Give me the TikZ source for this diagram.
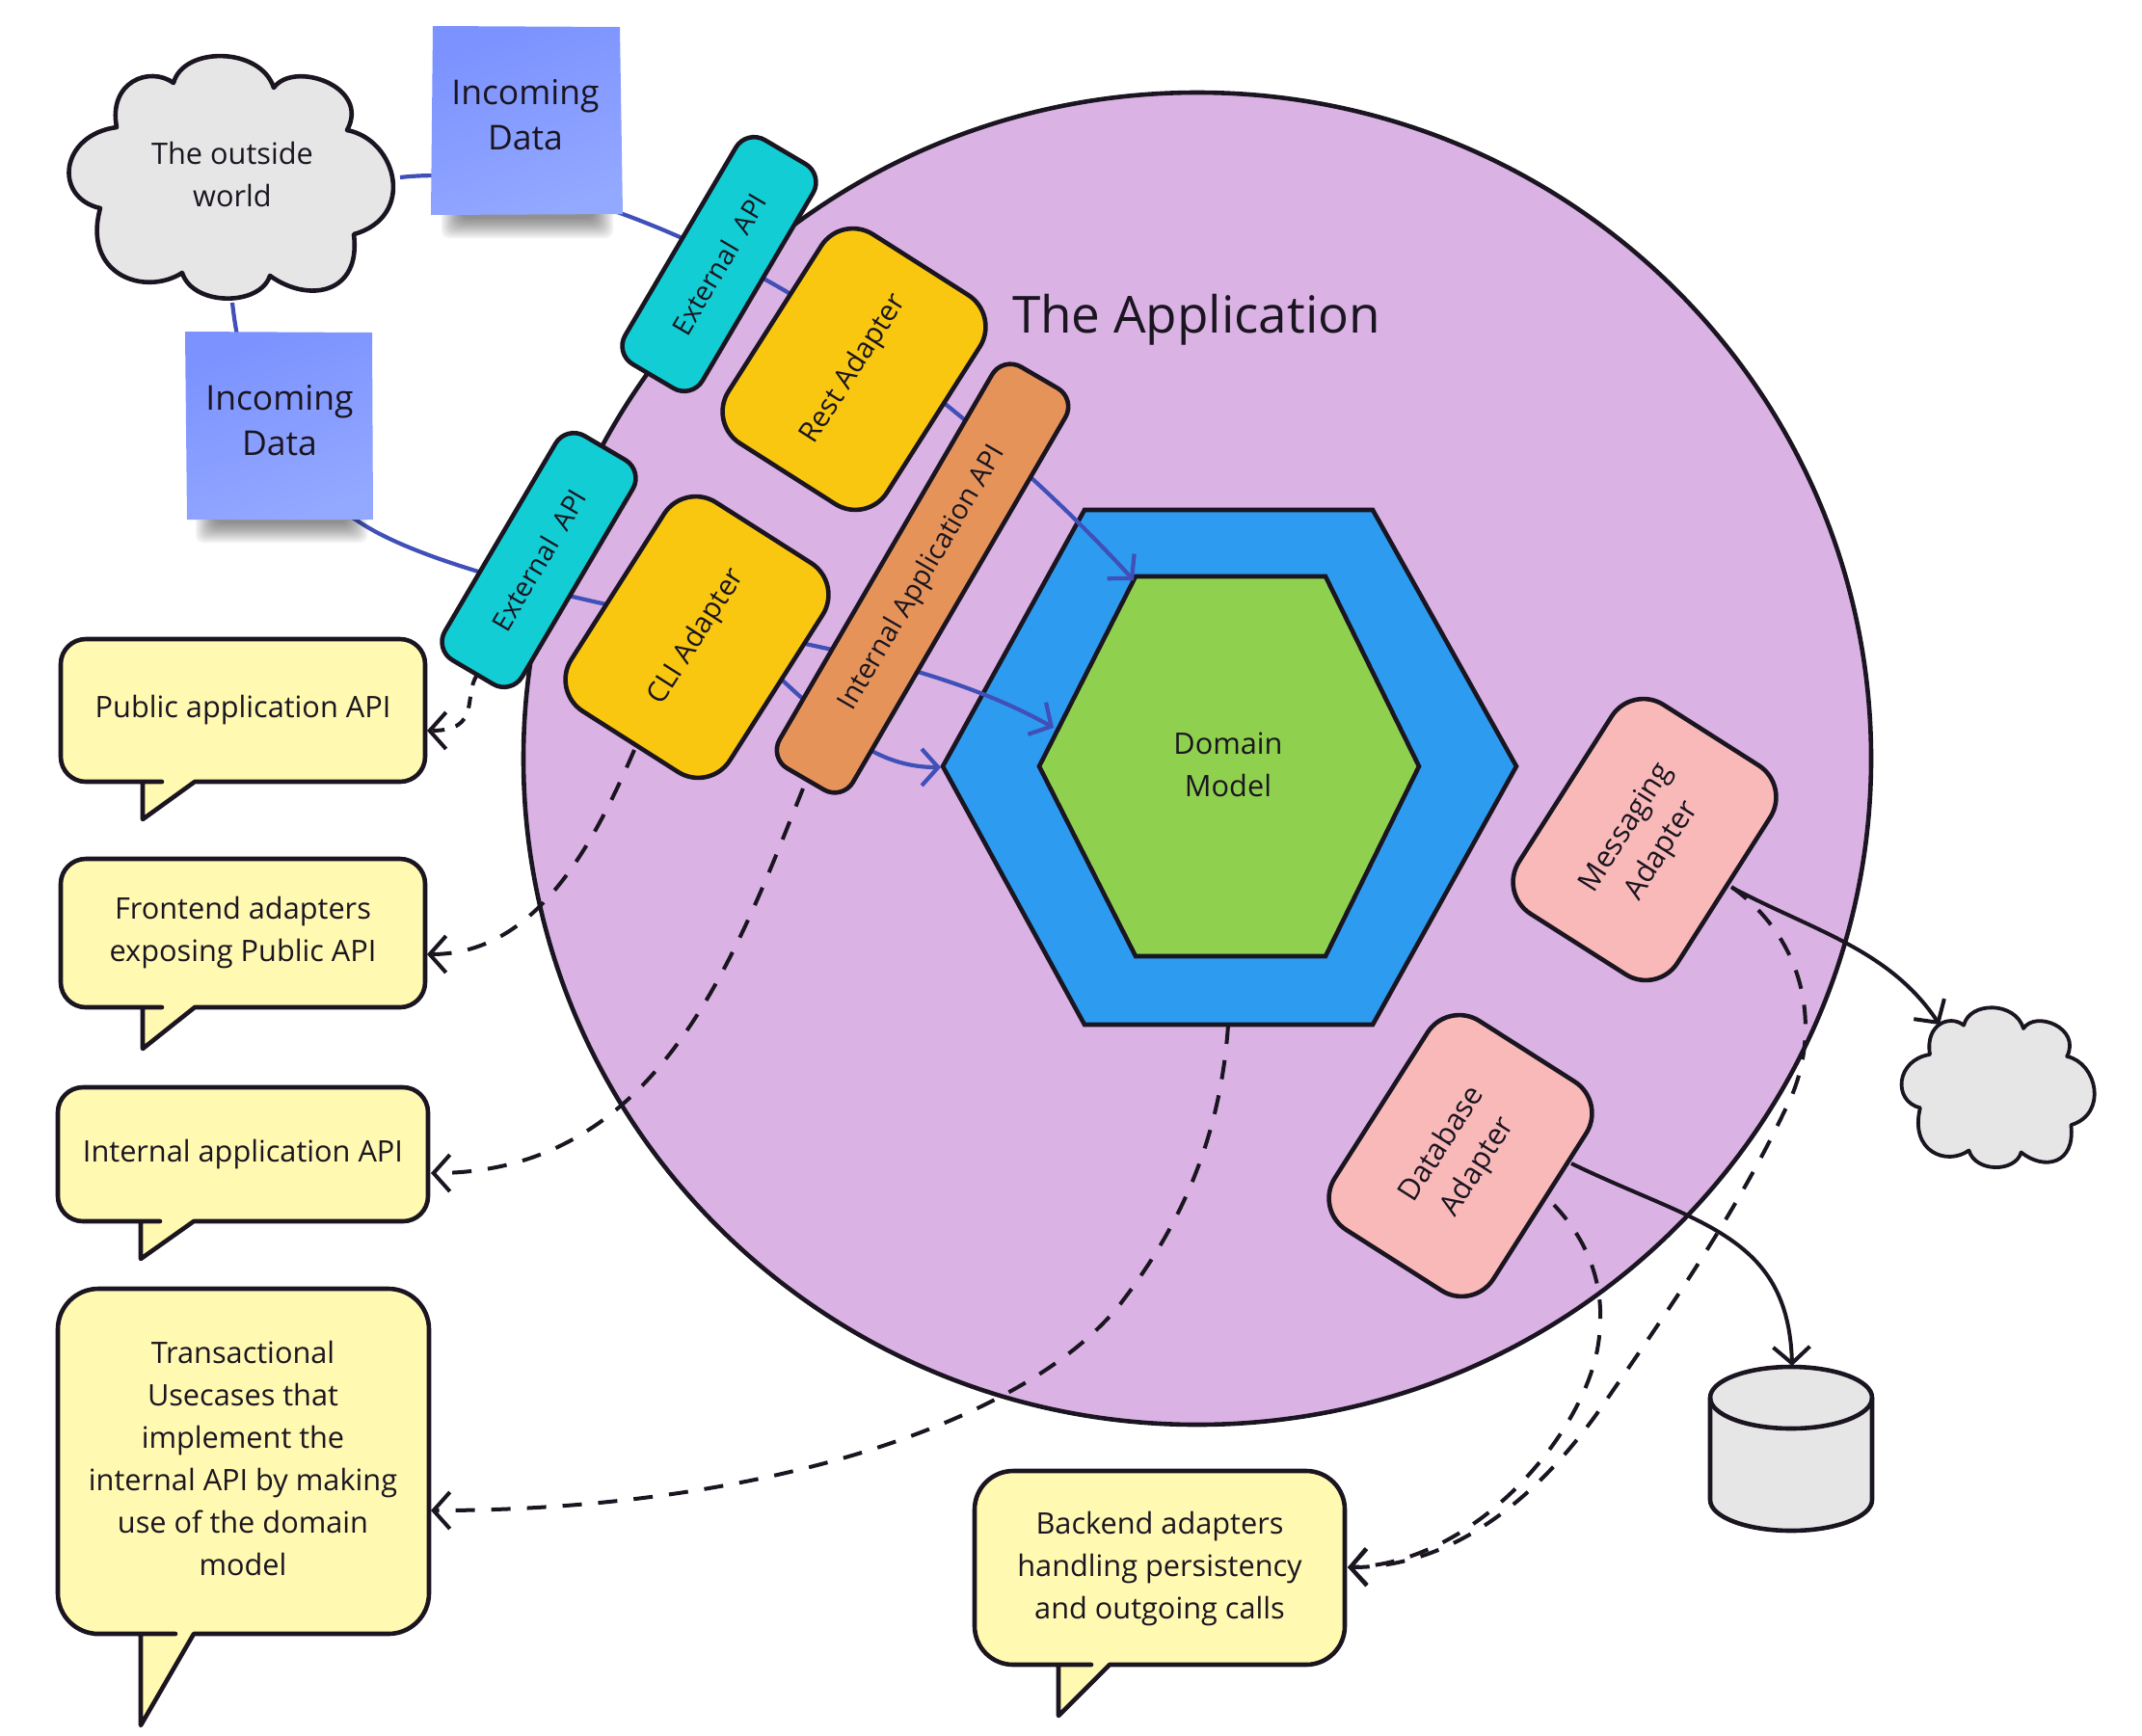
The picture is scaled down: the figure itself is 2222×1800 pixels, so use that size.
\documentclass[tikz,border=0pt]{standalone}
\usepackage{fontspec}
\setmainfont{Open Sans}
\usetikzlibrary{arrows.meta,calc,shapes.geometric}
\definecolor{ink}{HTML}{1A1520}
\definecolor{appfill}{HTML}{DAB2E4}
\definecolor{hexblue}{HTML}{2D9BF0}
\definecolor{hexgreen}{HTML}{8FD14F}
\definecolor{apicyan}{HTML}{12CDD4}
\definecolor{adyellow}{HTML}{FAC710}
\definecolor{aporange}{HTML}{E6935A}
\definecolor{adpink}{HTML}{F9B9B9}
\definecolor{notey}{HTML}{FFF9B1}
\definecolor{cloudg}{HTML}{E6E6E6}
\definecolor{flowblue}{HTML}{4050B8}
\definecolor{stickya}{HTML}{7B92FF}
\definecolor{stickyb}{HTML}{93A8FF}
\tikzset{
  x=1pt,y=-1pt,
  every node/.style={text=ink,font=\fontsize{30.7}{44}\selectfont,align=center},
  outline/.style={draw=ink,line width=4.6pt,line join=round},
  tiltbox/.style={outline,rectangle,inner sep=0pt},
  extapi/.style={tiltbox,fill=apicyan,minimum width=270pt,minimum height=93pt,rounded corners=22pt,rotate=59.5,font=\fontsize{28}{44}\selectfont},
  adapter/.style={tiltbox,fill=adyellow,minimum width=257pt,minimum height=195pt,rounded corners=39pt,rotate=57.5,font=\fontsize{29.5}{44}\selectfont},
  pinkbox/.style={tiltbox,fill=adpink,minimum width=257pt,minimum height=195pt,rounded corners=39pt,rotate=57.5},
  intapi/.style={tiltbox,fill=aporange,minimum width=482pt,minimum height=88pt,rounded corners=22pt,rotate=59.8,font=\fontsize{28.7}{44}\selectfont},
  flow/.style={draw=flowblue,line width=4.2pt},
  flowtip/.style={flow,-{Straight Barb[length=17pt,width=38pt]}},
  dashline/.style={draw=ink,line width=4pt,dash pattern=on 20pt off 17pt,-{Straight Barb[length=17pt,width=38pt,line width=4pt]}},
  solidline/.style={draw=ink,line width=4pt,-{Straight Barb[length=17pt,width=38pt]}},
  notetext/.style={inner sep=0pt},
  stickytext/.style={inner sep=0pt,font=\fontsize{35.5}{47}\selectfont},
  softshadow/.style={black,opacity=.055,rounded corners=8pt},
}
\newcommand\bubblepath[8]{%
  \draw[outline,fill=notey] (#5,#7) -- (#6,#4) -- ({#6+6},#4) [rounded corners=#8pt] -- (#3,#4) -- (#3,#2) -- (#1,#2) -- (#1,#4) -- ({#5-6},#4) [sharp corners] -- (#5,#4) -- cycle;}
\newcommand\cloudpath{(180,86) .. controls (190,48) and (270,48) .. (284,91)
  .. controls (305,62) and (385,90) .. (360,135)
  .. controls (412,145) and (432,225) .. (367,243)
  .. controls (375,305) and (320,315) .. (280,286)
  .. controls (270,318) and (200,318) .. (189,283)
  .. controls (150,308) and (85,285) .. (104,216)
  .. controls (55,205) and (62,140) .. (121,132)
  .. controls (112,85) and (155,68) .. (180,86) -- cycle}
\begin{document}
\begin{tikzpicture}
\useasboundingbox (0,0) rectangle (2222,1800);
% application circle
\node[outline,fill=appfill,ellipse,minimum width=1398pt,minimum height=1382pt,inner sep=0pt] (app) at (1242,787) {};
\node[font=\fontsize{53}{60}\selectfont] (apptitle) at (1241,332) {The Application};
% hexagons
\draw[outline,fill=hexblue,line join=miter] (1125,529) -- (1424,529) -- (1573,795) -- (1424,1063) -- (1125,1063) -- (978,795) -- cycle;
\draw[outline,fill=hexgreen,line join=miter] (1178,598) -- (1375,598) -- (1472,795) -- (1375,992) -- (1178,992) -- (1078,795) -- cycle;
\node (domain) at (1274,793) {Domain\\Model};
\coordinate (outerleft) at (976,796);
\coordinate (innercorner) at (1176,602);
\coordinate (inneredge) at (1093,755);
% incoming flows, under the boxes
\coordinate (cloudE) at (415,184);
\coordinate (cloudS) at (241,314);
\coordinate (cliE) at (800,695);
\path[flowtip] (cloudE) .. controls (540,170) and (700,235) .. (815,302) .. controls (920,365) and (1060,475) .. (innercorner);
\path[flowtip] (cloudS) .. controls (255,440) and (310,510) .. (369,539) .. controls (420,575) and (530,605) .. (629,627) .. controls (780,660) and (960,680) .. (inneredge);
\path[flowtip] (cliE) .. controls (870,760) and (910,796) .. (outerleft);
% boxes
\node[extapi] (ext1) at (746,274) {External\ \ API};
\node[extapi] (ext2) at (559,581) {External\ \ API};
\node[adapter] (rest) at (886,383) {Rest Adapter};
\node[adapter] (cli) at (723,661) {CLI Adapter};
\node[intapi] (int) at (957,600) {Internal Application API};
\node[pinkbox] (msg) at (1706,871) {Messaging\\Adapter};
\node[pinkbox] (db) at (1515,1199) {Database\\Adapter};
% clouds
\draw[outline,fill=cloudg] \cloudpath;
\node (outside) at (241,181) {The outside\\world};
\begin{scope}[shift={(1930,1007)},xscale=.595,yscale=.659]
\draw[outline,fill=cloudg,line width=3.8pt] \cloudpath;
\end{scope}
\coordinate (smallcloud) at (2012,1063);
% cylinder
\draw[outline,fill=cloudg] (1774,1450) arc[start angle=180,end angle=0,x radius=84pt,y radius=32pt] -- (1942,1556) arc[start angle=0,end angle=-180,x radius=84pt,y radius=32pt] -- cycle;
\draw[outline] (1774,1450) arc[start angle=180,end angle=360,x radius=84pt,y radius=32pt];
\coordinate (cyltop) at (1859,1417);
% sticky notes with soft shadows
\foreach \k in {0,...,9} {
  \fill[softshadow] ({458+2.2*\k},210) rectangle ({636-2.2*\k},{247-2.2*\k});
  \fill[softshadow] ({203+2.2*\k},527) rectangle ({381-2.2*\k},{563-2.2*\k});
}
\shade[bottom color=stickyb,top color=stickya,shading angle=20] (449,27) -- (643,28) -- (646,222) -- (447,223) -- cycle;
\shade[bottom color=stickyb,top color=stickya,shading angle=20] (192,344) -- (386,345) -- (387,539) -- (194,539) -- cycle;
\node[stickytext] (sticky1) at (545,119) {Incoming\\Data};
\node[stickytext] (sticky2) at (290,436) {Incoming\\Data};
% speech bubbles
\bubblepath{63}{663}{441}{811}{148}{202}{850}{26}
\node[notetext] (pub) at (252,737) {Public application API};
\bubblepath{63}{891}{441}{1045}{148}{202}{1088}{26}
\node[notetext] (front) at (252,968) {Frontend adapters\\exposing Public API};
\bubblepath{60}{1128}{444}{1267}{146}{201}{1306}{26}
\node[notetext] (intnote) at (252,1198) {Internal application API};
\bubblepath{60}{1337}{445}{1695}{146}{201}{1790}{42}
\node[notetext] (trans) at (252,1513) {Transactional\\Usecases that\\implement the\\internal API by making\\use of the domain\\model};
\bubblepath{1011}{1526}{1395}{1727}{1098}{1151}{1780}{40}
\node[notetext] (back) at (1203,1627) {Backend adapters\\handling persistency\\and outgoing calls};
\coordinate (pubin) at (443,758);
\coordinate (frontin) at (443,990);
\coordinate (intin) at (447,1217);
\coordinate (transin) at (447,1567);
\coordinate (backin) at (1398,1626);
% dashed connectors
\coordinate (ext2S) at (495,700);
\coordinate (cliS) at (658,778);
\coordinate (intS) at (833,818);
\coordinate (hexS) at (1274,1063);
\coordinate (msgS) at (1796,920);
\coordinate (dbS) at (1612,1250);
\path[dashline,dash pattern=on 12pt off 12pt] (ext2S) .. controls (480,722) and (500,758) .. (pubin);
\path[dashline] (cliS) .. controls (610,890) and (550,990) .. (frontin);
\path[dashline] (intS) .. controls (760,1000) and (680,1217) .. (intin);
\path[dashline] (hexS) .. controls (1265,1200) and (1210,1290) .. (1162,1353) .. controls (1060,1480) and (780,1567) .. (transin);
\path[dashline] (msgS) .. controls (1880,980) and (1890,1080) .. (1851,1153) .. controls (1800,1260) and (1730,1360) .. (1666,1453) .. controls (1600,1550) and (1510,1626) .. (backin);
\path[dashline] (dbS) .. controls (1650,1290) and (1668,1340) .. (1657,1400) .. controls (1640,1490) and (1530,1622) .. (backin);
% outgoing solid connectors
\coordinate (msgE) at (1797,921);
\coordinate (dbE) at (1630,1207);
\path[solidline] (msgE) .. controls (1880,965) and (1960,985) .. (smallcloud);
\path[solidline] (dbE) .. controls (1760,1270) and (1855,1280) .. (cyltop);
\end{tikzpicture}
\end{document}
